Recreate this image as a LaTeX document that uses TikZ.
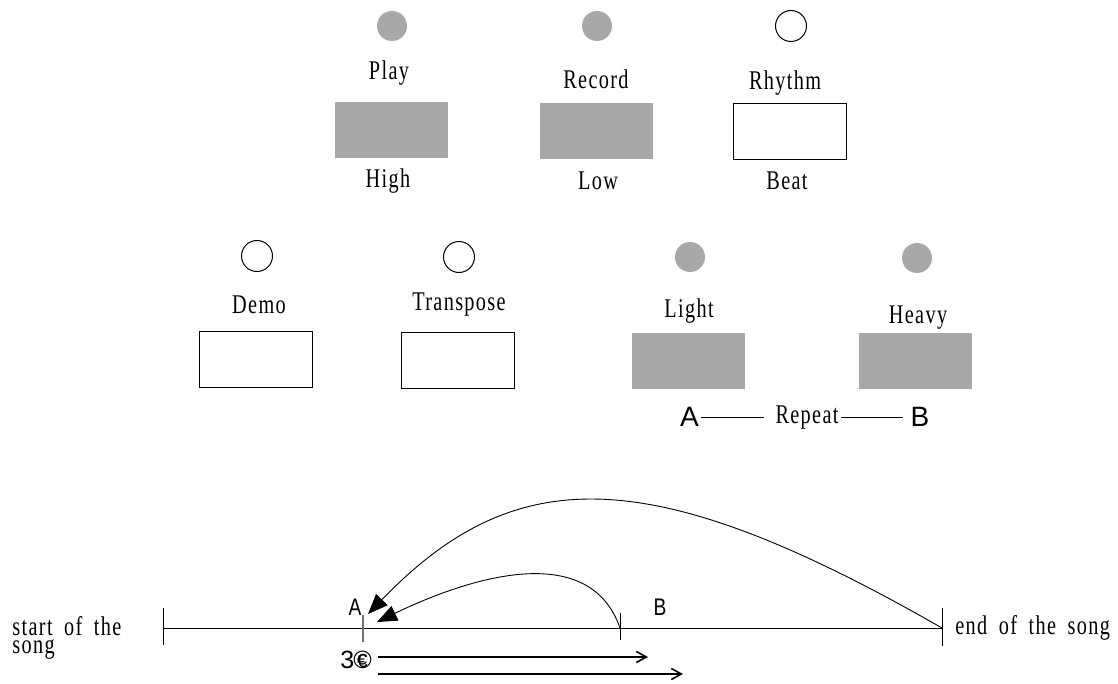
\documentclass[tikz,border=0pt]{standalone}
\usepackage{fontspec}
\usetikzlibrary{arrows.meta}
\newfontfamily\labfont{Liberation Serif}[FakeStretch=0.75,LetterSpace=5,WordSpace=1.8]
\newfontfamily\sansfont{Liberation Sans}
\newfontfamily\narrowfont{Liberation Sans}[FakeStretch=0.8]
\definecolor{panelgray}{HTML}{A8A8A8}
\definecolor{tickgray}{HTML}{707070}
\begin{document}
\begin{tikzpicture}[x=0.5pt,y=-0.5pt,
  lab/.style={font=\labfont\fontsize{13.5pt}{15pt}\selectfont, inner sep=0pt, anchor=base},
  ledoff/.style={circle, minimum width=14.5pt, minimum height=15.5pt, inner sep=0pt, draw=black, line width=0.5pt},
  ledon/.style={circle, minimum width=14.5pt, minimum height=15pt, inner sep=0pt, fill=panelgray},
  keyoff/.style={minimum width=56.5pt, minimum height=28pt, inner sep=0pt, draw=black, line width=0.5pt},
  keyon/.style={minimum width=56.5pt, minimum height=28pt, inner sep=0pt, fill=panelgray},
  bigsans/.style={font=\sansfont\fontsize{14pt}{15pt}\selectfont, inner sep=1pt},
  narrow/.style={font=\narrowfont\fontsize{12pt}{13pt}\selectfont, inner sep=0pt, anchor=base},
  thin/.style={line width=0.5pt},
  jump/.style={line width=0.45pt, -{Triangle[length=10pt,width=8pt]}},
  run/.style={line width=0.8pt, -{Straight Barb[length=5pt,width=5.5pt]}}
]
\useasboundingbox (0,0) rectangle (1118,684);

% ---- row 1 ----
\node[ledon]  (ledPlay)   at (392,26) {};
\node[ledon]  (ledRecord) at (597,26) {};
\node[ledoff] (ledRhythm) at (791,26) {};
\node[lab] (tPlay)   at (389,80) {Play};
\node[lab] (tRecord) at (596,89) {Record};
\node[lab] (tRhythm) at (785,90) {Rhythm};
\node[keyon]  (kPlay)   at (391.5,130.5) {};
\node[keyon]  (kRecord) at (596.5,131) {};
\node[keyoff] (kRhythm) at (790,131.5) {};
\node[lab] (tHigh) at (388,188) {High};
\node[lab] (tLow)  at (598,190) {Low};
\node[lab] (tBeat) at (787,190) {Beat};

% ---- row 2 ----
\node[ledoff] (ledDemo)      at (257,256) {};
\node[ledoff] (ledTranspose) at (459,257) {};
\node[ledon]  (ledLight)     at (690,257) {};
\node[ledon]  (ledHeavy)     at (917,258) {};
\node[lab] (tDemo)      at (259,313) {Demo};
\node[lab] (tTranspose) at (459,310) {Transpose};
\node[lab] (tLight)     at (689,317) {Light};
\node[lab] (tHeavy)     at (918,323) {Heavy};
\node[keyoff] (kDemo)      at (256,359) {};
\node[keyoff] (kTranspose) at (458,360.5) {};
\node[keyon]  (kLight)     at (688,360.5) {};
\node[keyon]  (kHeavy)     at (915,360.5) {};

% ---- repeat row ----
\node[bigsans] (rA) at (689.5,417) {A};
\node[lab] (rRepeat) at (807,423) {Repeat};
\node[bigsans] (rB) at (920,417) {B};
\draw[thin, shorten >=5.5pt] (rA.east) -- (rA.east -| rRepeat.west);
\draw[thin, shorten <=1pt, shorten >=2.5pt] (rRepeat.east |- rB.west) -- (rB.west);

% ---- timeline ----
\coordinate (tS) at (163,628);
\coordinate (tA) at (363,628);
\coordinate (tB) at (620,628);
\coordinate (tE) at (942,628);
\draw[thin] (tS) -- (tE);
\draw[thin] (163,608) -- (163,645);
\draw[thin, tickgray, line width=0.8pt] (363,615) -- (363,642);
\draw[thin] (620,613) -- (620,640);
\draw[thin] (942,608) -- (942,646);

\node[narrow] (lA) at (355,615) {A};
\node[narrow] (lB) at (660,615) {B};

\node[lab, anchor=base west] (tStart) at (12,635) {start of the};
\node[lab, anchor=base west] (tSong) at (12,653) {song};
\node[lab, anchor=base west] (tEnd) at (955,634) {end of the song};

\coordinate (hA1) at (368,614);
\coordinate (hA2) at (377,622);
\draw[jump] (tE) .. controls (649,460) and (515,462) .. (hA1);
\draw[jump] (tB) .. controls (589,539) and (468,578) .. (hA2);

\node[font=\sansfont\fontsize{12.5pt}{13pt}\selectfont, inner sep=0pt, anchor=base west] (tThree) at (340,668) {3\kern-0.5pt\ooalign{\hfil©\hfil\cr\hfil\raisebox{0.3pt}{\fontsize{9.5pt}{10pt}\selectfont€}\hfil}};

\coordinate (r1s) at (378,657);
\coordinate (r1e) at (648,657);
\coordinate (r2s) at (378,674);
\coordinate (r2e) at (683,674);
\draw[run] (r1s) -- (r1e);
\draw[run] (r2s) -- (r2e);
\end{tikzpicture}
\end{document}
